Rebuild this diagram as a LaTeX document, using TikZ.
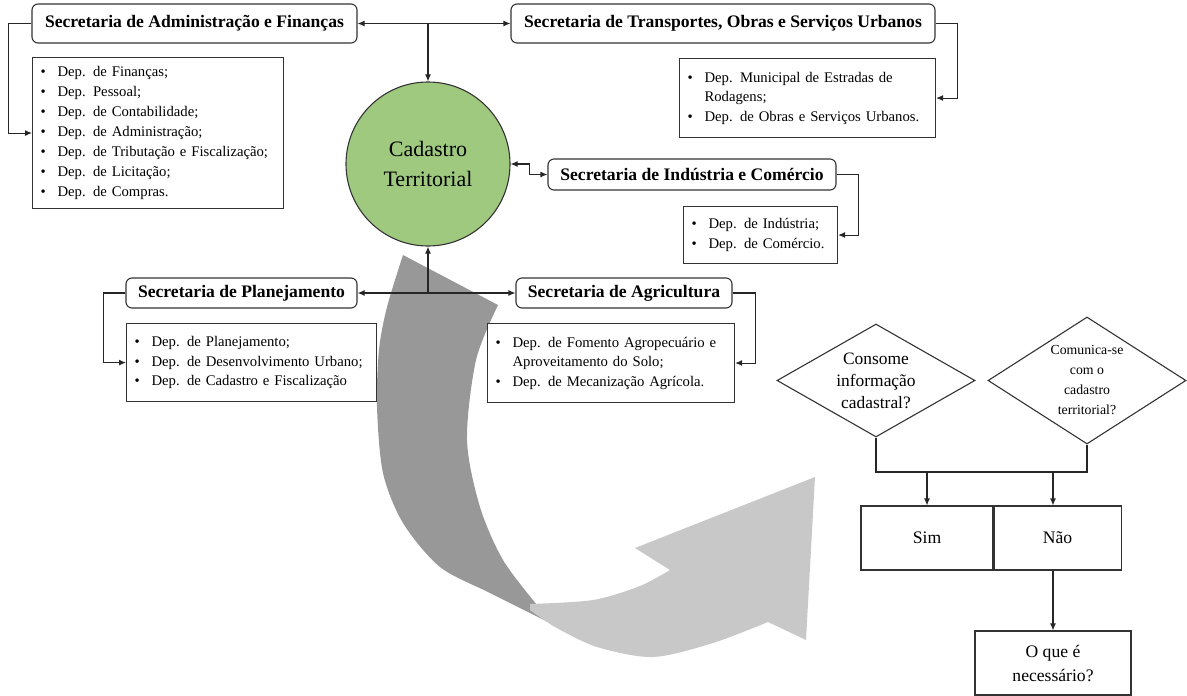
\documentclass[tikz,border=0pt]{standalone}
\usepackage{fontspec}
\setmainfont{Liberation Serif}
\usepackage{xcolor}
\usepackage{tikz}
\usetikzlibrary{shapes.geometric}
\usetikzlibrary{positioning}
\usetikzlibrary{arrows.meta}

\definecolor{cadgreen}{RGB}{158,201,127}
\definecolor{ribbondark}{RGB}{152,152,152}
\definecolor{ribbonlight}{RGB}{200,200,200}

\newcommand{\bitem}[1]{\makebox[17pt][l]{\textbullet}#1}
\newcommand{\bcont}[1]{\hspace*{17pt}#1}

\begin{document}
\begin{tikzpicture}[x=1pt, y=-1pt, line width=1.1pt, >={Latex[length=7pt,width=6pt]}]
  \useasboundingbox (0,0) rectangle (1187,696);

  \tikzstyle{secbox} = [draw=black!80, rounded corners=6pt, fill=white, inner sep=0pt,
  font=\fontsize{17.6}{20}\selectfont\bfseries]
  \tikzstyle{listbox} = [draw=black!80, fill=white, anchor=north west, align=left,
  inner xsep=8pt, inner ysep=0pt, font=\fontsize{14.7}{19.5}\selectfont]
  \tikzstyle{question} = [draw=black!80, diamond, inner sep=0pt, align=center]
  \tikzstyle{answer} = [draw=black!80, inner sep=0pt, align=center,
  font=\fontsize{17.6}{24}\selectfont]
  \tikzstyle{conn} = [draw=black!85, ->]

% twisted grey arrow in the background
\fill[ribbondark] (403,255) -- (498,305)
  -- plot[smooth] coordinates {(498,305) (476,360) (467,440) (480,507) (503,560) (537,605)}
  -- plot[smooth] coordinates {(552,624) (490,593) (440,567) (403,523) (383,473) (377,407) (379,350) (387,307) (403,255)}
  -- cycle;
\fill[ribbonlight] plot[smooth] coordinates {(530,604) (593,600) (640,586) (670,570)}
  -- (635,548) -- (815,477) -- (806,640) -- (768,622)
  -- plot[smooth] coordinates {(768,622) (713,643) (653,657) (597,647) (555,627) (530,610)}
  -- cycle;

% secretarias
\node[secbox, minimum width=325pt, minimum height=39pt] (adm) at (194.5,23.5)
  {Secretaria de Administração e Finanças};
\node[secbox, minimum width=424pt, minimum height=39pt] (transp) at (723,23.5)
  {Secretaria de Transportes, Obras e Serviços Urbanos};
\node[secbox, minimum width=288pt, minimum height=31pt] (ind) at (692,174.5)
  {Secretaria de Indústria e Comércio};
\node[secbox, minimum width=231pt, minimum height=30pt] (plan) at (241.5,293)
  {Secretaria de Planejamento};
\node[secbox, minimum width=216pt, minimum height=30pt] (agri) at (624,293)
  {Secretaria de Agricultura};

\node[draw=black!80, circle, fill=cadgreen, minimum size=164pt, inner sep=0pt,
  align=center, font=\fontsize{22}{30}\selectfont] (cad) at (428,164)
  {Cadastro\\Territorial};

% departamentos
\node[listbox, text width=235pt, minimum height=151pt, font=\fontsize{14.7}{20}\selectfont]
  (admlist) at (32,57)
  {\bitem{Dep. de Finanças;}\\ \bitem{Dep. Pessoal;}\\ \bitem{Dep. de Contabilidade;}\\
   \bitem{Dep. de Administração;}\\ \bitem{Dep. de Tributação e Fiscalização;}\\
   \bitem{Dep. de Licitação;}\\ \bitem{Dep. de Compras.}};
\node[listbox, text width=240pt, minimum height=79pt] (translist) at (679,58)
  {\bitem{Dep. Municipal de Estradas de}\\ \bcont{Rodagens;}\\
   \bitem{Dep. de Obras e Serviços Urbanos.}};
\node[listbox, text width=138pt, minimum height=57pt] (indlist) at (683,206)
  {\bitem{Dep. de Indústria;}\\ \bitem{Dep. de Comércio.}};
\node[listbox, text width=234pt, minimum height=78pt] (planlist) at (126,323)
  {\bitem{Dep. de Planejamento;}\\ \bitem{Dep. de Desenvolvimento Urbano;}\\
   \bitem{Dep. de Cadastro e Fiscalização}};
\node[listbox, text width=231pt, minimum height=79pt] (agrilist) at (487,323)
  {\bitem{Dep. de Fomento Agropecuário e}\\ \bcont{Aproveitamento do Solo;}\\
   \bitem{Dep. de Mecanização Agrícola.}};

% perguntas
\node[question, minimum width=198pt, minimum height=113pt, aspect=1.75,
  font=\fontsize{17.4}{22}\selectfont] (consome) at (876,380.5)
  {Consome\\informação\\cadastral?};
\node[question, minimum width=198pt, minimum height=127pt, aspect=1.55,
  font=\fontsize{13.8}{20}\selectfont] (comunica) at (1087,380.5)
  {Comunica-se\\com o\\cadastro\\territorial?};

\node[answer, minimum width=132pt, minimum height=64pt] (sim) at (927,538) {Sim};
\node[answer, minimum width=127pt, minimum height=64pt, right=0pt of sim] (nao) {Não};
\node[answer, minimum width=156pt, minimum height=64pt] (oque) at (1053,663)
  {O que é\\necessário?};

% ligacoes
\coordinate (trunk) at (cad.north |- adm.east);
\coordinate (trunkb) at (cad.south |- plan.east);
\draw[conn] (trunk) -- (adm.east);
\draw[conn] (trunk) -- (transp.west);
\draw[conn] (trunk) -- (cad.north);
\draw[conn] (trunkb) -- (cad.south);
\draw[conn] (trunkb) -- (plan.east);
\draw[conn] (trunkb) -- (agri.west);
\draw[conn, <->] (cad.east) -- ++(19,0) |- (ind.west);

\draw[conn] (adm.west) -- ++(-23,0) |- (admlist.west);
\draw[conn] (transp.east) -- ++(22,0) |- (translist.east);
\draw[conn] (ind.east) -- ++(22,0) |- (indlist.east);
\draw[conn] (plan.west) -- ++(-22,0) |- (planlist.west);
\draw[conn] (agri.east) -- ++(23,0) |- (agrilist.east);

\coordinate (join) at (876,472);
\draw[draw=black!85] (consome.south) |- (join) -| (comunica.south);
\draw[conn] (sim.north |- join) -- (sim.north);
\draw[conn] (oque.north |- join) -- (oque.north |- nao.north);
\draw[conn] (oque.north |- nao.south) -- (oque.north);

\end{tikzpicture}
\end{document}
